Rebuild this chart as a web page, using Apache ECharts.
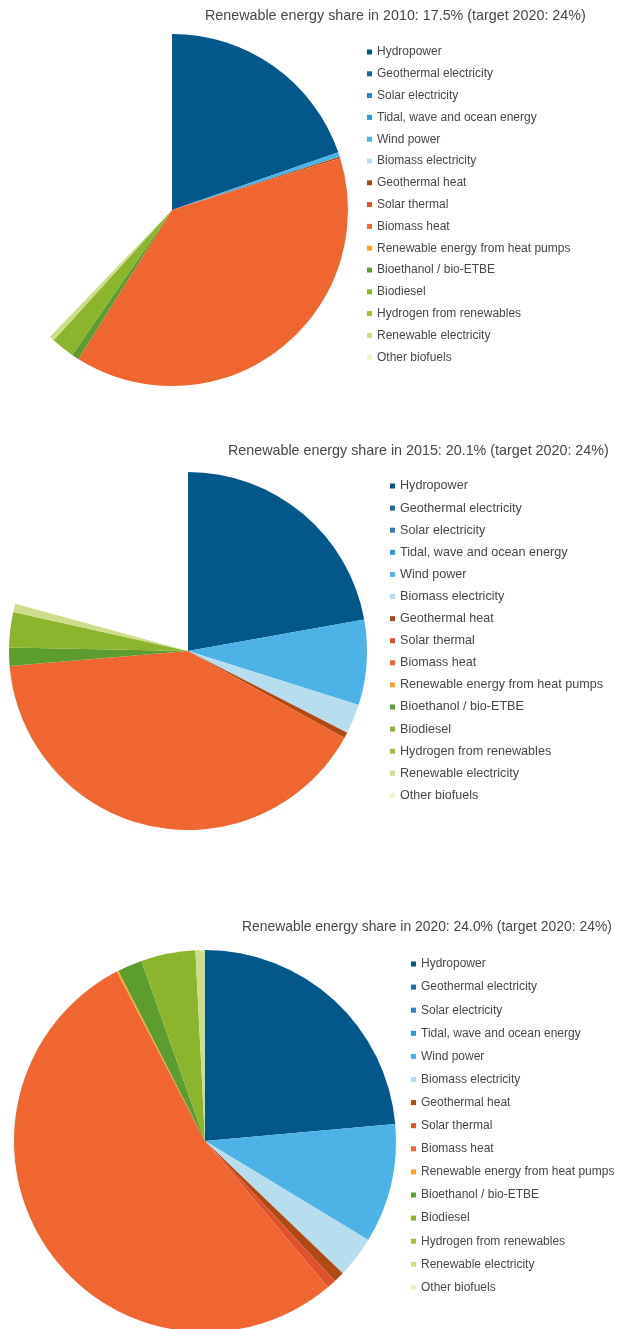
<!DOCTYPE html>
<html>
<head>
<meta charset="utf-8">
<script src="https://cdn.jsdelivr.net/npm/echarts@6/dist/echarts.min.js"></script>
<style>
  html, body { margin: 0; padding: 0; background: #ffffff; }
  #chart { width: 619px; height: 1329px; }
</style>
</head>
<body>
<div id="chart"></div>
<script>
// Renewable energy sources, in legend order
const categories = [
  'Hydropower',
  'Geothermal electricity',
  'Solar electricity',
  'Tidal, wave and ocean energy',
  'Wind power',
  'Biomass electricity',
  'Geothermal heat',
  'Solar thermal',
  'Biomass heat',
  'Renewable energy from heat pumps',
  'Bioethanol / bio-ETBE',
  'Biodiesel',
  'Hydrogen from renewables',
  'Renewable electricity',
  'Other biofuels'
];

// Contribution of each source, as % of the 2020 renewable total
const values2010 = [19.7, 0, 0, 0, 0.42, 0, 0.14, 0, 38.7, 0, 0.67, 2.14, 0, 0.47, 0];
const values2015 = [22.2, 0, 0, 0, 7.7, 2.67, 0.53, 0, 40.6, 0, 1.64, 3.2, 0, 0.75, 0];
const values2020 = [23.6, 0, 0, 0, 10.1, 3.5, 0.9, 0.8, 53.5, 0.15, 2.1, 4.6, 0, 0.8, 0];

// Chart headings
const titles = [
  'Renewable energy share in 2010: 17.5% (target 2020: 24%)',
  'Renewable energy share in 2015: 20.1% (target 2020: 24%)',
  'Renewable energy share in 2020: 24.0% (target 2020: 24%)'
];

const palette = [
  '#03578a', '#1b6aa0', '#2f80bd', '#2d9ad6', '#4db3e6', '#b6deee',
  '#b04a14', '#e0512e', '#ef6630', '#f5a623',
  '#5d9c2f', '#8ab52c', '#9cc43a', '#cfdd8a', '#f3f1c8'
];

const sum = arr => arr.reduce((a, b) => a + b, 0);
const fullTotal = sum(values2020);

const panels = [
  { values: values2010, center: [172, 210], radius: 176, titleLeft: 205, titleTop: 9, titleSize: 14.3,
    legendLeft: 367, legendTop: 45, legendSize: 12, gap: 7.8 },
  { values: values2015, center: [188, 651], radius: 179, titleLeft: 228, titleTop: 444, titleSize: 14.3,
    legendLeft: 390, legendTop: 479, legendSize: 12.6, gap: 8.1 },
  { values: values2020, center: [205, 1141], radius: 191, titleLeft: 242, titleTop: 920, titleSize: 13.9,
    legendLeft: 411, legendTop: 957, legendSize: 12, gap: 9.1 }
];

const chart = echarts.init(document.getElementById('chart'), null, { renderer: 'canvas' });

const option = {
  animation: false,
  color: palette,
  title: panels.map((p, i) => ({
    text: titles[i],
    left: p.titleLeft,
    top: p.titleTop,
    padding: 0,
    textStyle: { fontFamily: 'Liberation Sans, Arial, sans-serif', fontSize: p.titleSize, fontWeight: 'normal', color: '#474747' }
  })),
  legend: panels.map((p, i) => ({
    seriesIndex: i,
    data: categories,
    orient: 'vertical',
    left: p.legendLeft,
    top: p.legendTop,
    padding: 0,
    icon: 'rect',
    itemWidth: 5,
    itemHeight: 5,
    itemGap: p.gap,
    selectedMode: false,
    textStyle: { fontFamily: 'Liberation Sans, Arial, sans-serif', fontSize: p.legendSize, color: '#474747', lineHeight: 14, padding: [0, 0, 0, 0] }
  })),
  series: panels.map(p => ({
    type: 'pie',
    center: p.center,
    radius: p.radius,
    startAngle: 90,
    endAngle: 90 - 360 * sum(p.values) / fullTotal,
    clockwise: true,
    label: { show: false },
    labelLine: { show: false },
    emphasis: { disabled: true },
    itemStyle: { borderWidth: 0 },
    data: categories.map((name, k) => ({ name, value: p.values[k] }))
  }))
};

chart.setOption(option);
</script>
</body>
</html>
